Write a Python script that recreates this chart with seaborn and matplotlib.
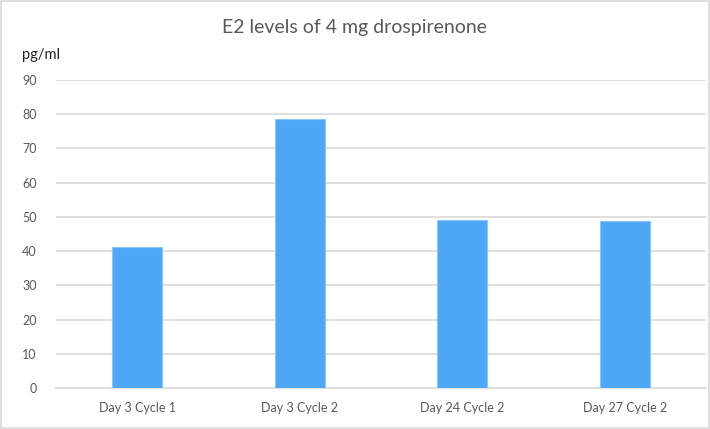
import numpy as np
import pandas as pd
import seaborn as sns
import matplotlib.pyplot as plt
from matplotlib.patches import Rectangle

categories = ["Day 3 Cycle 1", "Day 3 Cycle 2", "Day 24 Cycle 2", "Day 27 Cycle 2"]
e2_levels = [41.1, 78.7, 49.0, 48.8]
y_ticks = [0, 10, 20, 30, 40, 50, 60, 70, 80, 90]

df = pd.DataFrame({"sample": categories, "e2": e2_levels})

sns.set_style("white")
plt.rcParams["font.family"] = ["Lato", "DejaVu Sans"]
text_grey = "#595959"

fig = plt.figure(figsize=(7.1, 4.29), dpi=100)
ax = fig.add_axes([56 / 710, 1 - 388 / 429, 650 / 710, 308 / 429])

sns.barplot(data=df, x="sample", y="e2", color="#4ea7f5", width=0.31,
            edgecolor="#8cc6f8", linewidth=0.8, saturation=1, ax=ax, zorder=3)

ax.set_ylim(0, 90)
ax.set_yticks(y_ticks)
ax.yaxis.grid(True, color="#d9d9d9", linewidth=1.2, zorder=0)
ax.set_axisbelow(True)
for side in ["top", "right", "left"]:
    ax.spines[side].set_visible(False)
ax.spines["bottom"].set_color("#d9d9d9")
ax.spines["bottom"].set_linewidth(1.2)
ax.tick_params(axis="both", length=0, colors=text_grey, labelsize=9)
ax.tick_params(axis="y", pad=14)
ax.tick_params(axis="x", pad=10)
ax.set_xlabel("")
ax.set_ylabel("")

fig.text(0.5, 1 - 27 / 429, "E2 levels of 4 mg drospirenone", ha="center", va="center",
         fontsize=14, color=text_grey)
fig.text(22 / 710, 1 - 55 / 429, "pg/ml", ha="left", va="center", fontsize=10.5, color="#222222")

fig.patches.append(Rectangle((0.001, 0.002), 0.997, 0.996, transform=fig.transFigure,
                             fill=False, edgecolor="#d9d9d9", linewidth=1.2))

fig.savefig("out.png", dpi=100)
